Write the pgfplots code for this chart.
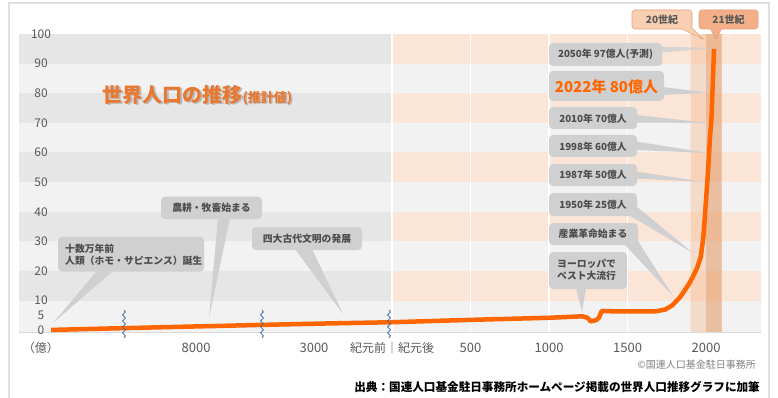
\documentclass[border=0pt]{standalone}
\usepackage{pgfplots}
\pgfplotsset{compat=1.18}
\usepackage{pgfplotstable}
\usepackage{fontspec}
\setmainfont{Noto Sans CJK JP}
\usetikzlibrary{decorations.pathmorphing}
\definecolor{bandgray}{HTML}{E6E6E6}
\definecolor{bglight}{HTML}{F2F2F2}
\definecolor{peach}{HTML}{FBE5D6}
\definecolor{lineor}{HTML}{FF6600}
\definecolor{calgray}{HTML}{D0D0D0}
\definecolor{txtgray}{HTML}{4D4D4D}
\definecolor{tickgray}{HTML}{595959}
\definecolor{titleor}{HTML}{E8782F}
\definecolor{cenA}{HTML}{F9CFB2}
\definecolor{cenB}{HTML}{F3B088}
\definecolor{cenborder}{HTML}{E3A079}
\definecolor{bandA}{HTML}{F4B183}
\definecolor{bandB}{HTML}{E39560}
\definecolor{squig}{HTML}{3D6DA8}
\definecolor{framegray}{HTML}{E0E0E0}

\pgfplotstableread{
x y
-2172 0.1
-1713 0.7
-1229 1.3
-834 1.8
-400 2.3
0 2.7
500 3.5
1000 4.2
1212 4.7
1245 4.2
1265 3.0
1300 3.4
1318 4.2
1335 6.5
1400 6.4
1680 6.4
1740 7.0
1785 8.4
1838 11.4
1892 15.7
1920 18.5
1945 21.3
1966 24.7
1983 31.4
1998 42.7
2013 53.9
2025 65
2034 71
2051 95
}\poptable

\pgfplotsset{myaxis/.style={
  at={(19pt,-332pt)}, anchor=south west,
  scale only axis, width=742pt, height=298pt,
  xmin=-2376, xmax=2350, ymin=-0.6, ymax=100,
}}

\begin{document}
\begin{tikzpicture}[x=1pt,y=-1pt]
\fill[white] (0,0) rectangle (778,398);
\useasboundingbox (0,0) rectangle (778,398);
\draw[framegray, line width=1.5pt] (9,3) rectangle (769,405);

\begin{axis}[myaxis,
  axis line style={draw=none},
  axis background/.style={fill=bglight},
  ticks=none,
]
\fill[bandgray] (axis cs:-2376,10) rectangle (axis cs:0,20);
\fill[bandgray] (axis cs:-2376,30) rectangle (axis cs:0,40);
\fill[bandgray] (axis cs:-2376,50) rectangle (axis cs:0,60);
\fill[bandgray] (axis cs:-2376,70) rectangle (axis cs:0,80);
\fill[bandgray] (axis cs:-2376,90) rectangle (axis cs:0,100);
\fill[peach] (axis cs:0,10) rectangle (axis cs:2350,20);
\fill[peach] (axis cs:0,30) rectangle (axis cs:2350,40);
\fill[peach] (axis cs:0,50) rectangle (axis cs:2350,60);
\fill[peach] (axis cs:0,70) rectangle (axis cs:2350,80);
\fill[peach] (axis cs:0,90) rectangle (axis cs:2350,100);
\draw[white, line width=1.2pt] (axis cs:0,-0.6) -- (axis cs:0,100);
\draw[white, line width=1.2pt] (axis cs:500,-0.6) -- (axis cs:500,100);
\draw[white, line width=1.2pt] (axis cs:1000,-0.6) -- (axis cs:1000,100);
\draw[white, line width=1.2pt] (axis cs:1500,-0.6) -- (axis cs:1500,100);
\draw[white, line width=1.2pt] (axis cs:1900,-0.6) -- (axis cs:1900,100);
\draw[white, line width=1.2pt] (axis cs:2100,-0.6) -- (axis cs:2100,100);
\fill[bandA, opacity=0.35] (axis cs:1900,-0.6) rectangle (axis cs:2000,100);
\fill[bandB, opacity=0.55] (axis cs:2000,-0.6) rectangle (axis cs:2100,100);
\draw[black!15, line width=1pt] (axis cs:-2376,-0.6) -- (axis cs:2350,-0.6);
\end{axis}

% title
\node[anchor=west, inner sep=0, text=black!45, opacity=0.5] at (104,96.5)
  {{\fontsize{20}{20}\selectfont\bfseries 世界人口の推移}{\fontsize{13}{13}\selectfont\bfseries (推計値)}};
\node[anchor=west, inner sep=0, text=titleor] at (102.5,95)
  {{\fontsize{20}{20}\selectfont\bfseries 世界人口の推移}{\fontsize{13}{13}\selectfont\bfseries (推計値)}};

% callouts
\tikzset{cal/.style={fill=calgray}, ct/.style={text=txtgray, inner sep=0, font=\fontsize{9.8}{12}\selectfont\bfseries}}
% 1
\fill[cal] (97,271) -- (53,323) -- (113,271) -- cycle;
\fill[cal, rounded corners=4pt] (58,236.7) rectangle (204,271.7);
\node[ct, anchor=west, align=left] at (65,255) {十数万年前\\人類（ホモ・サピエンス）誕生};
% 2
\fill[cal] (218,218) -- (209,318) -- (230,218) -- cycle;
\fill[cal, rounded corners=4pt] (161,196.7) rectangle (262,219);
\node[ct] at (211.5,208) {農耕・牧畜始まる};
% 3
\fill[cal] (295,249) -- (343,314) -- (312,249) -- cycle;
\fill[cal, rounded corners=4pt] (252,227) rectangle (362,250);
\node[ct] at (307,238.5) {四大古代文明の発展};
% 4
\fill[cal] (576,288) -- (582,312) -- (586,288) -- cycle;
\fill[cal, rounded corners=4pt] (549,252) rectangle (627,289);
\node[ct, anchor=west, align=left] at (557,269.5) {ヨーロッパで\\ペスト大流行};
% 5
\fill[cal] (624,244) -- (673,296) -- (636,238) -- cycle;
\fill[cal, rounded corners=4pt] (549,223) rectangle (638,245);
\node[ct] at (593,234) {産業革命始まる};
% 6
\fill[cal] (627,214) -- (693,253) -- (636,206) -- cycle;
\fill[cal, rounded corners=4pt] (549,193) rectangle (637,216);
\node[ct] at (593,204.5) {1950年 25億人};
% 7
\fill[cal] (636,171.5) -- (705,182) -- (636,178.5) -- cycle;
\fill[cal, rounded corners=4pt] (549,164) rectangle (637,186);
\node[ct] at (593,175) {1987年 50億人};
% 8
\fill[cal] (636,141.5) -- (708,153) -- (636,150) -- cycle;
\fill[cal, rounded corners=4pt] (549,135) rectangle (637,157);
\node[ct] at (593,146.5) {1998年 60億人};
% 9
\fill[cal] (636,115) -- (710,123) -- (636,122.5) -- cycle;
\fill[cal, rounded corners=4pt] (549,107) rectangle (637,129);
\node[ct] at (593,118.3) {2010年 70億人};
% 10
\fill[cal] (663,87) -- (708,92.7) -- (663,95) -- cycle;
\fill[cal, rounded corners=4pt] (549,71) rectangle (664,101);
\node[ct, text=lineor, font=\fontsize{15}{15}\selectfont\bfseries] at (606.5,86.5) {2022年 80億人};
% 11
\fill[cal, opacity=0.8] (661,46.7) -- (715,48) -- (661,52.7) -- cycle;
\fill[cal, rounded corners=4pt] (549,43) rectangle (662,66);
\node[ct] at (605.5,54.5) {2050年 97億人(予測)};

% century labels
\filldraw[fill=cenA, draw=cenborder, line width=0.6pt] (680,28) -- (703,39) -- (692,28) -- cycle;
\filldraw[fill=cenA, draw=cenborder, line width=0.6pt, rounded corners=3pt] (632,10) rectangle (692,29);
\fill[cenA] (680.8,28) -- (701,37.5) -- (691.2,28) -- (691.2,27) -- (680.8,27) -- cycle;
\node[ct, text=tickgray, font=\fontsize{10}{10}\selectfont\bfseries] at (662,19.5) {20世紀};
\filldraw[fill=cenB, draw=cenborder, line width=0.6pt] (710,28) -- (716,39) -- (722,28) -- cycle;
\filldraw[fill=cenB, draw=cenborder, line width=0.6pt, rounded corners=3pt] (699,10) rectangle (758,29);
\fill[cenB] (710.8,28) -- (716,37.5) -- (721.2,28) -- (721.2,27) -- (710.8,27) -- cycle;
\node[ct, text=tickgray, font=\fontsize{10}{10}\selectfont\bfseries] at (728.5,19.5) {21世紀};

% source texts
\node[anchor=east, inner sep=0, text=black!50, font=\fontsize{10}{10}\selectfont] at (756,365) {©国連人口基金駐日事務所};
\node[anchor=east, inner sep=0, text=black, font=\fontsize{11.6}{11.6}\selectfont\bfseries] at (760,387) {出典：国連人口基金駐日事務所ホームページ掲載の世界人口推移グラフに加筆};

% population line and tick labels
\begin{axis}[myaxis,
  axis line style={draw=none},
  major tick length=0pt,
  ytick={0,5,10,20,30,40,50,60,70,80,90,100},
  yticklabels={0,5,10,20,30,40,50,60,70,80,90,100},
  yticklabel style={anchor=center, xshift=22pt, font=\fontsize{12}{12}\selectfont, text=tickgray},
  xtick={-2236,-1248,-497,0,500,1000,1500,2000},
  xticklabels={{\fontsize{12}{12}\selectfont （億）},8000,3000,{\fontsize{12}{12}\selectfont 紀元前｜紀元後},500,1000,1500,2000},
  xticklabel style={anchor=center, yshift=-16pt, font=\fontsize{13}{13}\selectfont, text=tickgray},
]
\addplot[lineor, line width=4.5pt, line join=round, line cap=butt] table[x=x, y=y] {\poptable};
\end{axis}

% break marks
\foreach \xx in {124,262,389} {
  \draw[squig, line width=0.8pt, decorate, decoration={snake, amplitude=1.4pt, segment length=6pt}] (\xx,310) -- (\xx,338);
}
\end{tikzpicture}
\end{document}
